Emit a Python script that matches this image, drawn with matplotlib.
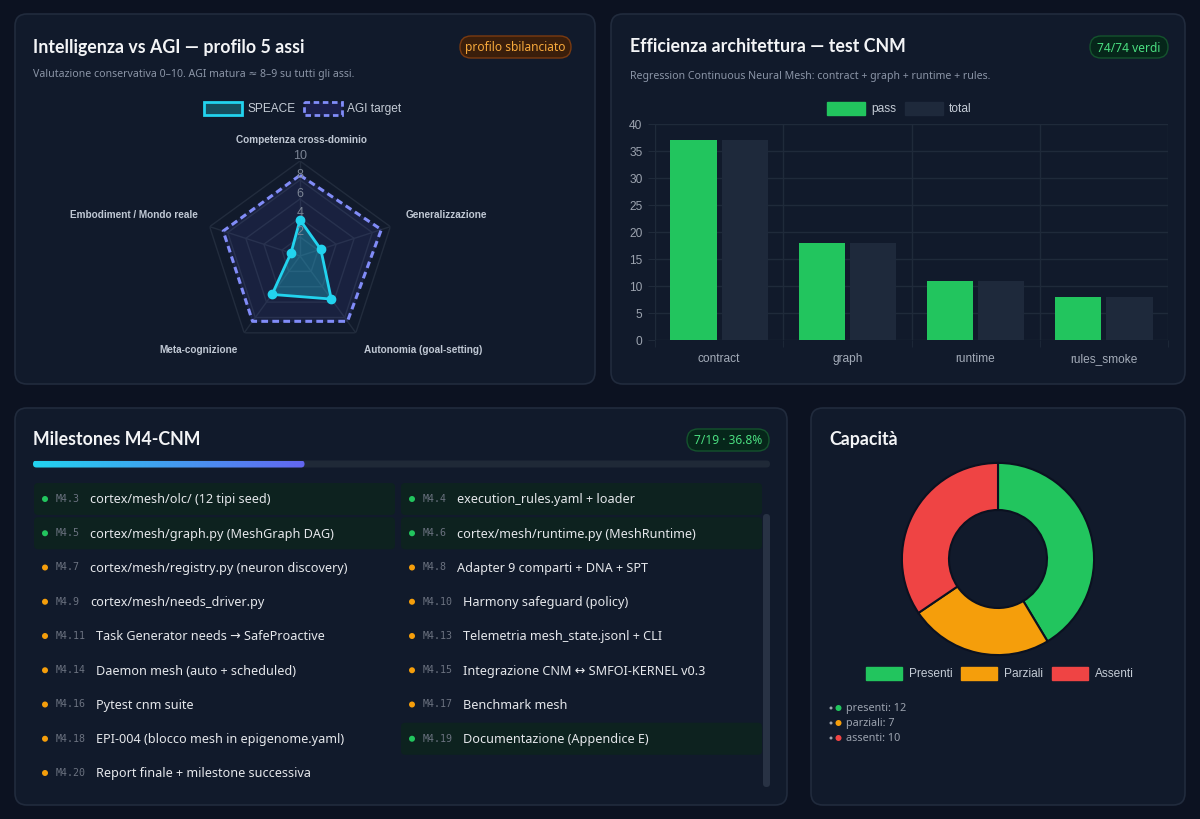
import numpy as np
import matplotlib
matplotlib.use("Agg")
from matplotlib import pyplot as plt
from matplotlib.patches import FancyBboxPatch, Rectangle, Circle
from matplotlib.colors import LinearSegmentedColormap

# ---- data ----
radar_axes = ["Competenza cross-dominio", "Generalizzazione", "Autonomia (goal-setting)",
              "Meta-cognizione", "Embodiment / Mondo reale"]
speace_vals = [3.8, 2.3, 5.6, 5.0, 1.0]
agi_vals = [8.5, 9.0, 8.5, 8.5, 8.5]
radar_ticks = [2, 4, 6, 8, 10]

test_suites = ["contract", "graph", "runtime", "rules_smoke"]
test_pass = [37, 18, 11, 8]
test_total = [37, 18, 11, 8]

ms_codes = ["M4.3", "M4.4", "M4.5", "M4.6", "M4.7", "M4.8", "M4.9", "M4.10", "M4.11",
            "M4.13", "M4.14", "M4.15", "M4.16", "M4.17", "M4.18", "M4.19", "M4.20"]
ms_titles = ["cortex/mesh/olc/ (12 tipi seed)", "execution_rules.yaml + loader",
             "cortex/mesh/graph.py (MeshGraph DAG)", "cortex/mesh/runtime.py (MeshRuntime)",
             "cortex/mesh/registry.py (neuron discovery)", "Adapter 9 comparti + DNA + SPT",
             "cortex/mesh/needs_driver.py", "Harmony safeguard (policy)",
             "Task Generator needs \u2192 SafeProactive", "Telemetria mesh_state.jsonl + CLI",
             "Daemon mesh (auto + scheduled)", "Integrazione CNM \u2194 SMFOI-KERNEL v0.3",
             "Pytest cnm suite", "Benchmark mesh", "EPI-004 (blocco mesh in epigenome.yaml)",
             "Documentazione (Appendice E)", "Report finale + milestone successiva"]
ms_done = [1, 1, 1, 1, 0, 0, 0, 0, 0, 0, 0, 0, 0, 0, 0, 1, 0]
ms_done_count, ms_total_count = 7, 19

cap_labels = ["Presenti", "Parziali", "Assenti"]
cap_values = [12, 7, 10]

# ---- style ----
PAGE = "#0c1221"
CARD = "#111a2b"
BORDER = "#212b3d"
GRID = "#1f2a3a"
TXT = "#e5e7eb"
MUTED = "#8b95a7"
GREEN = "#22c55e"
ORANGE = "#f59e0b"
RED = "#ef4444"
CYAN = "#22d3ee"
INDIGO = "#818cf8"
UI = ["Noto Sans", "DejaVu Sans"]
HEAD = ["Lato", "Noto Sans", "DejaVu Sans"]
CH = ["Liberation Sans", "DejaVu Sans"]

W, H = 1200, 820
fig = plt.figure(figsize=(12, 8.2), dpi=100, facecolor=PAGE)
bg = fig.add_axes([0, 0, 1, 1], zorder=0)
bg.set_xlim(0, W)
bg.set_ylim(H, 0)
bg.axis("off")


def rect_ax(x0, y0, x1, y1):
    return [x0 / W, 1 - y1 / H, (x1 - x0) / W, (y1 - y0) / H]


def card(x0, y0, x1, y1):
    bg.add_patch(FancyBboxPatch((x0, y0), x1 - x0, y1 - y0, boxstyle="round,pad=0,rounding_size=12",
                                fc=CARD, ec=BORDER, lw=1.2))


def badge(x0, x1, yc, text, fc, ec, tc):
    bg.add_patch(FancyBboxPatch((x0, yc - 11), x1 - x0, 22, boxstyle="round,pad=0,rounding_size=11",
                                fc=fc, ec=ec, lw=1))
    bg.text((x0 + x1) / 2, yc, text, color=tc, fontsize=8.6, ha="center", va="center", family=UI)


def title(x, y, text):
    bg.text(x, y, text, color="#f3f4f6", fontsize=12.8, fontweight="bold", va="center", family=HEAD)


def subtitle(x, y, text):
    bg.text(x, y, text, color=MUTED, fontsize=7.6, va="center", family=UI)


def legend_box(x, y, label, fc, ec, ls="-", lw=1, w=38, gap=6):
    bg.add_patch(Rectangle((x, y - 6.5), w, 13, fc=fc, ec=ec, lw=lw, ls=ls))
    bg.text(x + w + gap, y, label, color="#c5ccd6", fontsize=8.6, va="center", family=CH)


card(15, 15, 595, 385)
card(611, 15, 1185, 385)
card(15, 409, 787, 806)
card(811, 409, 1185, 806)

# ---- card 1: radar ----
title(33, 47, "Intelligenza vs AGI \u2014 profilo 5 assi")
badge(460, 571, 48, "profilo sbilanciato", "#3a1e0b", "#7a3a10", "#f7a93b")
subtitle(33, 75, "Valutazione conservativa 0\u201310. AGI matura \u2248 8\u20139 su tutti gli assi.")
legend_box(204, 109, "SPEACE", "#164e5e", CYAN, lw=2, w=38, gap=6)
legend_box(304, 109, "AGI target", "#1b1f4a", INDIGO, ls=(0, (2, 1.3)), lw=2, w=38, gap=5)

cx, cy, R = 300, 257, 95
rad = fig.add_axes(rect_ax(cx - R, cy - R, cx + R, cy + R), projection="polar", zorder=2)
rad.set_facecolor("none")
rad.set_theta_zero_location("N")
rad.set_theta_direction(-1)
rad.set_ylim(0, 10)
rad.grid(False)
rad.spines["polar"].set_visible(False)
rad.set_xticks([])
rad.set_yticks([])
theta = np.linspace(0, 2 * np.pi, len(radar_axes), endpoint=False)
tc = np.append(theta, theta[0])
for lv in radar_ticks:
    rad.plot(tc, [lv] * len(tc), color="#222c3d", lw=1, zorder=1)
for t in theta:
    rad.plot([t, t], [0, 10], color="#222c3d", lw=1, zorder=1)
agi_c = agi_vals + agi_vals[:1]
sp_c = speace_vals + speace_vals[:1]
rad.fill(tc, agi_c, color="#6366f1", alpha=0.10, zorder=2)
rad.plot(tc, agi_c, color=INDIGO, lw=2.2, ls=(0, (2.2, 1.4)), zorder=3)
rad.fill(tc, sp_c, color=CYAN, alpha=0.30, zorder=4)
rad.plot(tc, sp_c, color=CYAN, lw=2, zorder=5)
rad.plot(theta, speace_vals, "o", color=CYAN, ms=6, zorder=6)
for lv in radar_ticks:
    rad.text(0, lv, str(lv), color="#7b8494", fontsize=9, ha="center", va="bottom", family=CH, zorder=7)
label_pos = [(302, 140, "center"), (406, 215, "left"), (423, 350, "center"),
             (199, 350, "center"), (198, 215, "right")]
for (lx, ly, ha), lab in zip(label_pos, radar_axes):
    bg.text(lx, ly, lab, color="#c0c8d4", fontsize=7.2, fontweight="bold", ha=ha, va="center", family=CH)

# ---- card 2: bars ----
title(630, 47, "Efficienza architettura \u2014 test CNM")
badge(1090, 1168, 48, "74/74 verdi", "#06261a", "#14532d", "#4ade80")
subtitle(630, 76, "Regression Continuous Neural Mesh: contract + graph + runtime + rules.")
legend_box(827, 109, "pass", GREEN, GREEN)
legend_box(905, 109, "total", "#1e293b", "#1e293b")

bar = fig.add_axes(rect_ax(655, 125, 1168, 341), zorder=2)
bar.set_facecolor("none")
x = np.arange(len(test_suites))
bar.bar(x - 0.2, test_pass, width=0.36, color=GREEN, zorder=3)
bar.bar(x + 0.2, test_total, width=0.36, color="#1e293b", zorder=3)
bar.set_xlim(-0.5, len(test_suites) - 0.5)
bar.set_ylim(0, 40)
bar.set_yticks(np.arange(0, 41, 5))
bar.set_xticks(x)
bar.set_xticklabels(test_suites)
bar.set_xticks(np.arange(-0.5, len(test_suites)), minor=True)
bar.grid(axis="y", color=GRID, lw=1, zorder=0)
bar.grid(axis="x", which="minor", color=GRID, lw=1, zorder=0)
bar.tick_params(axis="y", colors=GRID, labelcolor="#9ca3af", length=5, labelsize=8.6, pad=4)
bar.tick_params(axis="x", which="major", length=0, labelcolor="#a3abb8", labelsize=8.6, pad=9)
bar.tick_params(axis="x", which="minor", length=5, colors=GRID)
for lab in bar.get_xticklabels() + bar.get_yticklabels():
    lab.set_family(CH)
for s in bar.spines.values():
    s.set_visible(False)

# ---- card 3: milestones ----
title(33, 440, "Milestones M4-CNM")
badge(687, 769, 441, f"{ms_done_count}/{ms_total_count} \u00b7 {ms_done_count / ms_total_count * 100:.1f}%",
      "#06261a", "#14532d", "#4ade80")
px0, px1, py = 33, 770, 465
bg.add_patch(FancyBboxPatch((px0, py - 3.5), px1 - px0, 7, boxstyle="round,pad=0,rounding_size=3.5",
                            fc="#1f2937", ec="none"))
fill_x = px0 + (px1 - px0) * ms_done_count / ms_total_count
prog = FancyBboxPatch((px0, py - 3.5), fill_x - px0, 7, boxstyle="round,pad=0,rounding_size=3.5",
                      fc="none", ec="none")
bg.add_patch(prog)
grad = np.linspace(0, 1, 256).reshape(1, -1)
gcm = LinearSegmentedColormap.from_list("g", [CYAN, "#6366f1"])
im = bg.imshow(grad, cmap=gcm, extent=[px0, fill_x, py + 3.5, py - 3.5], aspect="auto", zorder=2)
im.set_clip_path(prog)
bg.set_xlim(0, W)
bg.set_ylim(H, 0)

col_x = [34, 401]
col_w = 361
row0, pitch = 500, 34.25
for i, (code, txt, done) in enumerate(zip(ms_codes, ms_titles, ms_done)):
    c, r = i % 2, i // 2
    yc = row0 + r * pitch
    xl = col_x[c]
    if done:
        bg.add_patch(FancyBboxPatch((xl, yc - 16), col_w, 32, boxstyle="round,pad=0,rounding_size=4",
                                    fc="#0d221f", ec="none", zorder=1))
    bg.add_patch(Circle((xl + 11, yc), 3, fc=GREEN if done else ORANGE, ec="none", zorder=3))
    bg.text(xl + 22, yc - 1, code, color="#6b7280", fontsize=7.2, family="DejaVu Sans Mono",
            va="center", zorder=3)
    bg.text(xl + 22 + len(code) * 6 + 10, yc, txt, color=TXT, fontsize=9.1, family=UI,
            va="center", zorder=3)
bg.add_patch(FancyBboxPatch((763, 515), 7, 273, boxstyle="round,pad=0,rounding_size=3.5",
                            fc="#283244", ec="none", zorder=2))

# ---- card 4: donut ----
title(829, 440, "Capacit\u00e0")
dcx, dcy, dr = 998, 560, 98
don = fig.add_axes(rect_ax(dcx - dr, dcy - dr, dcx + dr, dcy + dr), zorder=2)
don.set_facecolor("none")
cap_colors = [GREEN, ORANGE, RED]
don.pie(cap_values, colors=cap_colors, startangle=90, counterclock=False, radius=1,
        wedgeprops=dict(width=0.49, edgecolor="#0b1120", linewidth=1.5))
don.set_xlim(-1.02, 1.02)
don.set_ylim(-1.02, 1.02)
don.set_aspect("equal")
don.axis("off")
for lx, lab, col in zip([866, 961, 1052], cap_labels, cap_colors):
    legend_box(lx, 674, lab, col, col, w=36, gap=7)
for k, (lab, val, col) in enumerate(zip(cap_labels, cap_values, cap_colors)):
    yy = 709 + k * 15
    bg.add_patch(Circle((831, yy), 1.5, fc="#9ca3af", ec="none"))
    bg.add_patch(Circle((838.5, yy), 3, fc=col, ec="none"))
    bg.text(846, yy, f"{lab.lower()}: {val}", color="#9ca3af", fontsize=7.8, va="center", family=UI)

fig.savefig("out.png", dpi=100, facecolor=PAGE)
